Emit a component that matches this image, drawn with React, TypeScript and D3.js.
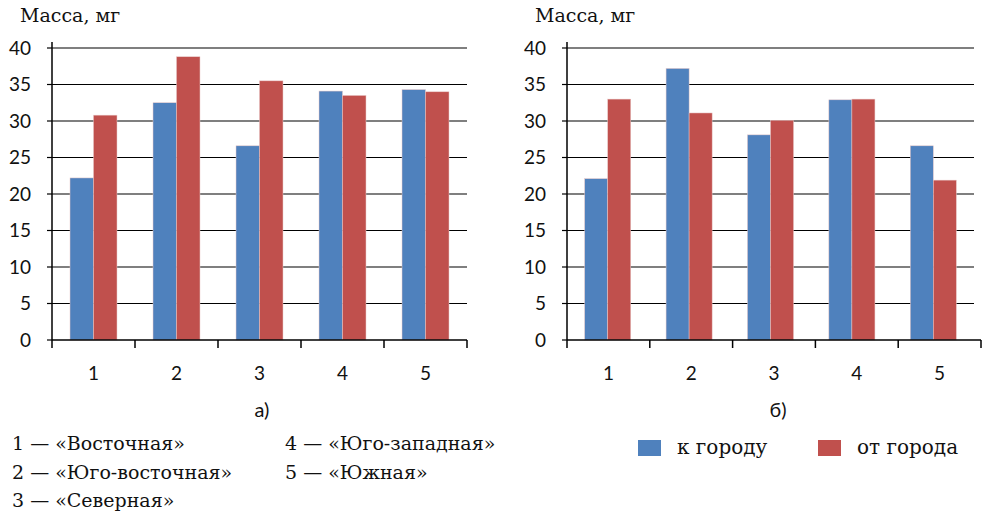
import React from 'react';
import * as d3 from 'd3';

// categories (station numbers) and series
const categories = ['1', '2', '3', '4', '5'];
const seriesNames = ['к городу', 'от города'];
const colors = ['#4F81BD', '#C0504D'];
// panel а) values, mg
const towardA = [22.2, 32.5, 26.6, 34.1, 34.3];
const fromA = [30.8, 38.8, 35.5, 33.5, 34.0];
// panel б) values, mg
const towardB = [22.1, 37.2, 28.1, 32.9, 26.6];
const fromB = [33.0, 31.1, 30.1, 33.0, 21.9];
const yTicks = [0, 5, 10, 15, 20, 25, 30, 35, 40];
const stationNames = [
  '1 — «Восточная»',
  '2 — «Юго-восточная»',
  '3 — «Северная»',
  '4 — «Юго-западная»',
  '5 — «Южная»'
];

const serif = '"DejaVu Serif", serif';
const sans = 'Lato, "Open Sans", sans-serif';

type PanelProps = {
  x0: number;
  x1: number;
  axisEnd: number;
  toward: number[];
  from: number[];
  label: string;
  labelX: number;
};

const Panel: React.FC<PanelProps> = ({ x0, x1, axisEnd, toward, from, label, labelX }) => {
  const y = d3.scaleLinear().domain([0, 40]).range([340, 48]);
  const x = d3.scaleBand<string>().domain(categories).range([x0, x1]).paddingInner(0.434).paddingOuter(0.217);
  const xs = d3.scaleBand<string>().domain(seriesNames).range([0, x.bandwidth()]);
  const xAxis = d3.scaleBand<string>().domain(categories).range([x0, axisEnd]);
  const data = [toward, from];
  const bounds = [...categories.map(c => xAxis(c) as number), axisEnd];
  return (
    <g>
      <text x={x0 - 32} y={22} fontFamily={serif} fontSize={19} fill="#111">Масса, мг</text>
      {yTicks.map(t => (
        <g key={t}>
          {t > 0 && <line x1={x0} x2={x1} y1={y(t)} y2={y(t)} stroke="#000" strokeWidth={1.2} />}
          <line x1={x0 - 5} x2={x0} y1={y(t)} y2={y(t)} stroke="#000" strokeWidth={1.2} />
          <text x={x0 - 21} y={y(t)} dy="0.35em" textAnchor="end" fontFamily={sans} fontSize={19} fill="#111">{t}</text>
        </g>
      ))}
      {data.map((vals, si) => vals.map((v, i) => (
        <rect key={`${si}-${i}`}
          x={(x(categories[i]) as number) + (xs(seriesNames[si]) as number)}
          y={y(v)} width={xs.bandwidth()} height={y(0) - y(v)}
          fill={colors[si]} stroke="#e8c8c8" strokeWidth={0.5} />
      )))}
      <line x1={x0} x2={x0} y1={42} y2={y(0)} stroke="#000" strokeWidth={1.5} />
      <line x1={x0} x2={axisEnd} y1={y(0)} y2={y(0)} stroke="#000" strokeWidth={1.5} />
      {bounds.map((b, i) => (
        <line key={i} x1={b} x2={b} y1={y(0)} y2={y(0) + 8} stroke="#000" strokeWidth={1.5} />
      ))}
      {categories.map(c => (
        <text key={c} x={(xAxis(c) as number) + xAxis.bandwidth() / 2} y={380} textAnchor="middle"
          fontFamily={sans} fontSize={19} fill="#111">{c}</text>
      ))}
      <text x={labelX} y={417} textAnchor="middle" fontFamily={sans} fontSize={20} fill="#111">{label}</text>
    </g>
  );
};

const App: React.FC = () => {
  return (
    <svg width={987} height={518} style={{ position: 'absolute', left: 0, top: 0, background: '#fff' }}>
      <Panel x0={52} x1={467} axisEnd={467} toward={towardA} from={fromA} label="а)" labelX={262} />
      <Panel x0={567} x1={974} axisEnd={981} toward={towardB} from={fromB} label="б)" labelX={778} />
      {stationNames.map((s, i) => (
        <text key={s} x={i < 3 ? 12 : 285} y={450 + (i % 3) * 28.5}
          fontFamily={serif} fontSize={19} fill="#111">{s}</text>
      ))}
      {seriesNames.map((s, i) => (
        <g key={s}>
          <rect x={638 + i * 180} y={440} width={23} height={16} fill={colors[i]} />
          <text x={677 + i * 180} y={454} fontFamily={serif} fontSize={20} fill="#111">{s}</text>
        </g>
      ))}
    </svg>
  );
};

export default App;
